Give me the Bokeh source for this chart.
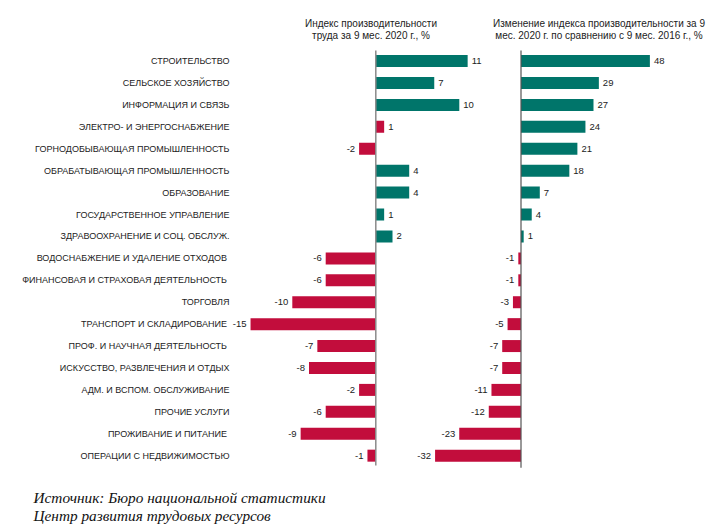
from bokeh.plotting import figure
from bokeh.models import Range1d, ColumnDataSource, Label
from bokeh.core.properties import value
from bokeh.embed import file_html
from bokeh.resources import INLINE

categories = [
    "СТРОИТЕЛЬСТВО",
    "СЕЛЬСКОЕ ХОЗЯЙСТВО",
    "ИНФОРМАЦИЯ И СВЯЗЬ",
    "ЭЛЕКТРО- И ЭНЕРГОСНАБЖЕНИЕ",
    "ГОРНОДОБЫВАЮЩАЯ ПРОМЫШЛЕННОСТЬ",
    "ОБРАБАТЫВАЮЩАЯ ПРОМЫШЛЕННОСТЬ",
    "ОБРАЗОВАНИЕ",
    "ГОСУДАРСТВЕННОЕ УПРАВЛЕНИЕ",
    "ЗДРАВООХРАНЕНИЕ И СОЦ. ОБСЛУЖ.",
    "ВОДОСНАБЖЕНИЕ  И УДАЛЕНИЕ ОТХОДОВ",
    "ФИНАНСОВАЯ  И СТРАХОВАЯ ДЕЯТЕЛЬНОСТЬ",
    "ТОРГОВЛЯ",
    "ТРАНСПОРТ  И СКЛАДИРОВАНИЕ",
    "ПРОФ. И НАУЧНАЯ  ДЕЯТЕЛЬНОСТЬ",
    "ИСКУССТВО, РАЗВЛЕЧЕНИЯ И ОТДЫХ",
    "АДМ. И ВСПОМ. ОБСЛУЖИВАНИЕ",
    "ПРОЧИЕ УСЛУГИ",
    "ПРОЖИВАНИЕ  И ПИТАНИЕ",
    "ОПЕРАЦИИ С НЕДВИЖИМОСТЬЮ",
]
index_2020 = [11, 7, 10, 1, -2, 4, 4, 1, 2, -6, -6, -10, -15, -7, -8, -2, -6, -9, -1]
change_vs_2016 = [48, 29, 27, 24, 21, 18, 7, 4, 1, -1, -1, -3, -5, -7, -7, -11, -12, -23, -32]

title1 = "Индекс производительности\nтруда за 9 мес. 2020 г., %"
title2 = "Изменение индекса производительности за 9\nмес. 2020 г. по сравнению с 9 мес. 2016 г., %"
source_lines = ["Источник: Бюро национальной статистики", "Центр развития трудовых ресурсов"]

POS = "#00756A"
NEG = "#C20D3C"
TXT = "#222222"
FONT = "Liberation Sans"

W, H = 723, 526
row0 = 60.6      # y of first row centre (px from top)
rowh = 21.92     # row pitch in px
z1, s1 = 375.3, 8.35   # panel 1 zero (px) and px per unit
z2, s2 = 520.5, 2.685  # panel 2 zero and px per unit

p = figure(width=W, height=H, output_backend="svg", toolbar_location=None,
           min_border=0, x_axis_location=None, y_axis_location=None,
           x_range=Range1d(-z1 / s1, (W - z1) / s1),
           y_range=Range1d((H - row0) / rowh, -row0 / rowh))
p.extra_x_ranges = {"r2": Range1d(-z2 / s2, (W - z2) / s2)}
p.grid.visible = False
p.outline_line_color = None
p.background_fill_color = "white"
p.border_fill_color = "white"

n = len(categories)
ys = list(range(n))
colors1 = [POS if v > 0 else NEG for v in index_2020]
colors1[3] = NEG  # the reference draws this small positive bar in red
colors2 = [POS if v > 0 else NEG for v in change_vs_2016]

def make_src(vals, cols):
    return ColumnDataSource(dict(
        y=ys, v=vals, c=cols, lab=[str(v) for v in vals],
        align=["left" if v > 0 else "right" for v in vals],
        off=[4 if v > 0 else -4 for v in vals]))

src1 = make_src(index_2020, colors1)
src2 = make_src(change_vs_2016, colors2)

bh = 12.0 / rowh
p.hbar(y="y", left=0, right="v", height=bh, fill_color="c", line_color=None, source=src1)
p.hbar(y="y", left=0, right="v", height=bh, fill_color="c", line_color=None, source=src2,
       x_range_name="r2")

# zero lines
p.segment(x0=[0], x1=[0], y0=[-0.48], y1=[n - 0.55], line_color="#8a8a8a", line_width=1.5)
p.segment(x0=[0], x1=[0], y0=[-0.48], y1=[n - 0.45], line_color="#555555", line_width=1.2,
          x_range_name="r2")

# value labels
p.text(x="v", y="y", text="lab", x_offset="off", text_align="align", text_baseline="middle",
       text_font=value(FONT), text_font_size="9.5px", text_color=TXT, source=src1)
p.text(x="v", y="y", text="lab", x_offset="off", text_align="align", text_baseline="middle",
       text_font=value(FONT), text_font_size="9.5px", text_color=TXT, source=src2,
       x_range_name="r2")

# category labels
csrc = ColumnDataSource(dict(y=ys, t=categories, x0=[0] * n))
p.text(x="x0", y="y", text="t", x_offset=-(z1 - 229), text_align="right", text_baseline="middle",
       text_font=value(FONT), text_font_size="9px", text_color=TXT, source=csrc)

# titles
for t, cx in ((title1, 370.5), (title2, 598.5)):
    p.add_layout(Label(x=cx, y=H - 29, x_units="screen", y_units="screen", text=t,
                       text_align="center", text_baseline="middle", text_font=FONT,
                       text_font_size="10px", text_color=TXT, text_line_height=1.15))

# source
for i, t in enumerate(source_lines):
    p.add_layout(Label(x=33, y=H - (496.5 + 18.5 * i), x_units="screen", y_units="screen", text=t,
                       text_align="left", text_baseline="middle", text_font="Liberation Serif",
                       text_font_style="italic", text_font_size="15.3px", text_color="#111111"))

open("out.html", "w").write(file_html(p, INLINE))
